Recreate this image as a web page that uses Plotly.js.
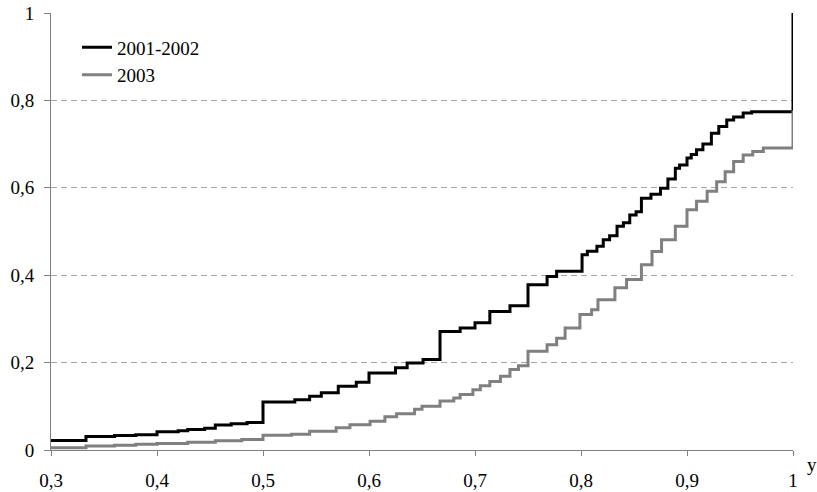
<!DOCTYPE html>
<html>
<head>
<meta charset="utf-8">
<script src="https://cdn.plot.ly/plotly-3.0.1.min.js"></script>
<style>html,body{margin:0;padding:0;background:#fff;}#chart{width:817px;height:492px;}</style>
</head>
<body>
<div id="chart"></div>
<script>
// Series names
const seriesNames = ["2001-2002", "2003"];

// 2001-2002 (black) step function
const xBlack = [0.3, 0.333, 0.36, 0.38, 0.4, 0.42, 0.429, 0.445, 0.455, 0.47, 0.485, 0.5,
  0.53, 0.544, 0.555, 0.571, 0.588, 0.6, 0.625, 0.636, 0.651, 0.667, 0.686, 0.7, 0.714,
  0.733, 0.75, 0.768, 0.777, 0.801, 0.806, 0.815, 0.821, 0.827, 0.834, 0.84, 0.846, 0.852,
  0.857, 0.866, 0.875, 0.882, 0.889, 0.893, 0.9, 0.904, 0.909, 0.915, 0.923, 0.93, 0.9375,
  0.944, 0.953, 0.961, 1.0];
const yBlack = [0.022, 0.031, 0.033, 0.035, 0.042, 0.044, 0.047, 0.05, 0.057, 0.06, 0.063, 0.11,
  0.115, 0.123, 0.131, 0.146, 0.155, 0.176, 0.188, 0.199, 0.207, 0.271, 0.279, 0.291, 0.317,
  0.330, 0.378, 0.397, 0.409, 0.447, 0.455, 0.466, 0.481, 0.49, 0.512, 0.52, 0.538, 0.545,
  0.576, 0.585, 0.599, 0.62, 0.645, 0.652, 0.668, 0.676, 0.687, 0.70, 0.725, 0.74, 0.755,
  0.762, 0.771, 0.774, 1.0];

// 2003 (gray) step function
const xGray = [0.3, 0.333, 0.36, 0.38, 0.4, 0.429, 0.455, 0.48, 0.5, 0.527, 0.544, 0.569,
  0.582, 0.601, 0.615, 0.626, 0.643, 0.65, 0.667, 0.68, 0.686, 0.698, 0.705, 0.714, 0.724,
  0.733, 0.741, 0.75, 0.768, 0.777, 0.785, 0.799, 0.81, 0.816, 0.832, 0.843, 0.857, 0.867,
  0.876, 0.889, 0.9, 0.909, 0.919, 0.928, 0.936, 0.944, 0.953, 0.962, 0.972, 1.0];
const yGray = [0.005, 0.009, 0.011, 0.013, 0.015, 0.018, 0.021, 0.024, 0.034, 0.036, 0.043, 0.051,
  0.058, 0.066, 0.076, 0.083, 0.093, 0.100, 0.112, 0.119, 0.127, 0.138, 0.147, 0.157, 0.169,
  0.184, 0.193, 0.226, 0.241, 0.256, 0.279, 0.310, 0.321, 0.344, 0.371, 0.390, 0.424, 0.454,
  0.481, 0.512, 0.550, 0.569, 0.592, 0.614, 0.637, 0.660, 0.675, 0.683, 0.691, 0.777];

// Tick labels
const xTicks = [0.3, 0.4, 0.5, 0.6, 0.7, 0.8, 0.9, 1];
const yTicks = [0, 0.2, 0.4, 0.6, 0.8, 1];
const xAxisLabel = "y";

const fontFamily = "Times New Roman, Liberation Serif, DejaVu Serif, serif";

const traces = [
  {x: xBlack, y: yBlack, name: seriesNames[0], type: 'scatter', mode: 'lines',
   line: {shape: 'hv', color: '#000000', width: 3}},
  {x: xGray, y: yGray, name: seriesNames[1], type: 'scatter', mode: 'lines',
   line: {shape: 'hv', color: '#808080', width: 3}}
];

const layout = {
  width: 817, height: 492,
  margin: {l: 51, r: 24, t: 13, b: 42, pad: 0},
  paper_bgcolor: '#ffffff', plot_bgcolor: '#ffffff',
  separators: ', ',
  font: {family: fontFamily, size: 19, color: '#000000'},
  showlegend: true,
  legend: {x: 0.035, y: 0.965, xanchor: 'left', yanchor: 'top', bgcolor: 'rgba(0,0,0,0)',
    font: {family: fontFamily, size: 19, color: '#000'}},
  xaxis: {range: [0.3, 1], tickvals: xTicks, showgrid: false, zeroline: false,
    showline: true, linecolor: '#808080', linewidth: 1,
    ticks: 'outside', ticklen: 5, tickcolor: '#808080', tickwidth: 1,
    ticklabelstandoff: 8, tickfont: {family: fontFamily, size: 19, color: '#000'}},
  yaxis: {range: [0, 1], tickvals: yTicks, showgrid: true, gridcolor: '#a6a6a6', gridwidth: 1,
    griddash: '6px,4px', zeroline: false,
    showline: true, linecolor: '#808080', linewidth: 1,
    ticks: 'outside', ticklen: 6, tickcolor: '#808080', tickwidth: 1,
    ticklabelstandoff: 6, tickfont: {family: fontFamily, size: 19, color: '#000'}},
  annotations: [{text: xAxisLabel, xref: 'paper', yref: 'paper', x: 1.025, y: -0.033,
    xanchor: 'center', yanchor: 'middle', showarrow: false,
    font: {family: fontFamily, size: 19, color: '#000'}}]
};

Plotly.newPlot('chart', traces, layout, {displayModeBar: false, staticPlot: true});
</script>
</body>
</html>
